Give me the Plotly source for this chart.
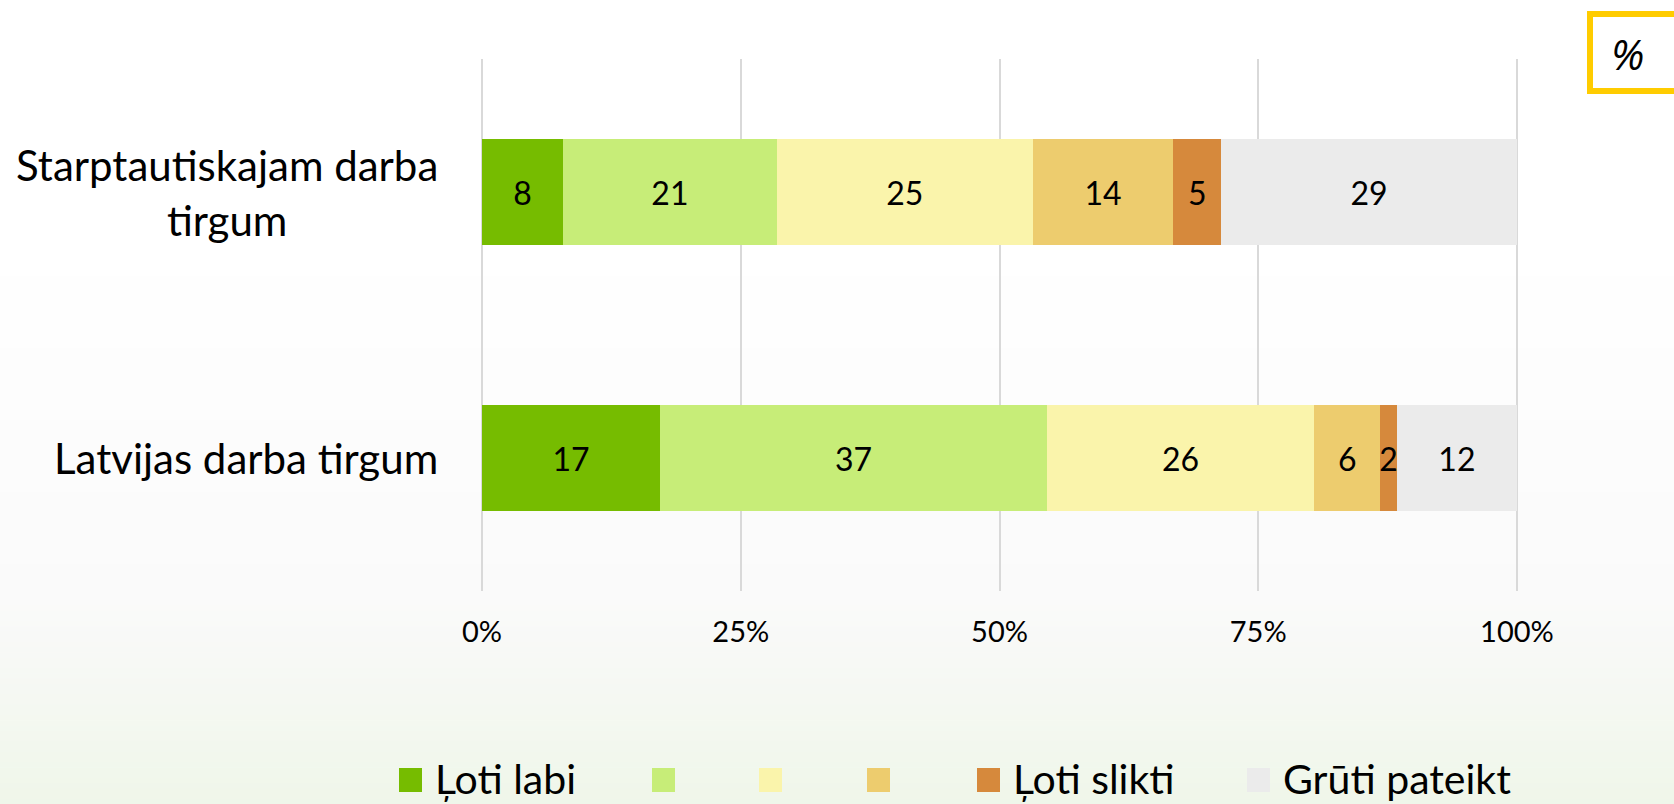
import plotly.graph_objects as go

# ---------------- data ----------------
categories = ["Starptautiskajam darba<br>tirgum", "Latvijas darba tirgum"]
series_names = ["Ļoti labi", "", "", "", "Ļoti slikti", "Grūti pateikt"]
series_colors = ["#76BC00", "#C7ED78", "#FAF4AB", "#EDCC6E", "#D6893C", "#EBEBEB"]
# values per series: [Starptautiskajam, Latvijas]
v_loti_labi = [7.8, 17.2]
v_labi = [20.7, 37.4]
v_videji = [24.7, 25.8]
v_slikti = [13.6, 6.4]
v_loti_slikti = [4.6, 1.6]
v_gruti = [28.6, 11.6]
series_values = [v_loti_labi, v_labi, v_videji, v_slikti, v_loti_slikti, v_gruti]
tick_vals = [0, 25, 50, 75, 100]
tick_text = ["0%", "25%", "50%", "75%", "100%"]

FONT = "Lato"
W, H = 1674, 804
L, R, T, B = 480, 1519, 59, 591
X_RANGE = [-0.2, 100.2]


def px_x(p):
    return (p - L) / (R - L)


def px_y(p):
    return (B - p) / (B - T)


fig = go.Figure()
for name, color, vals in zip(series_names, series_colors, series_values):
    fig.add_trace(go.Bar(
        y=categories, x=vals, orientation="h", name=name,
        marker=dict(color=color, line=dict(width=0)),
        text=vals, texttemplate="%{x:.0f}", textposition="inside",
        insidetextanchor="middle",
        textfont=dict(family=FONT, size=32, color="black"),
        showlegend=False, width=0.4, hoverinfo="skip",
    ))

shapes = []
annotations = []


def grad(y_a, y_b, c_a, c_b, n):
    for i in range(n):
        ya = y_a + (y_b - y_a) * i / n
        yb = y_a + (y_b - y_a) * (i + 1) / n
        t = (i + 0.5) / n
        col = tuple(round(c_a[k] + (c_b[k] - c_a[k]) * t) for k in range(3))
        shapes.append(dict(type="rect", xref="paper", yref="paper",
                           x0=px_x(-10), x1=px_x(W + 10),
                           y0=px_y(yb + 0.6), y1=px_y(ya),
                           fillcolor="rgb(%d,%d,%d)" % col, line=dict(width=0),
                           layer="below"))


# background gradient (white -> faint grey -> pale green at bottom)
grad(240, 600, (255, 255, 255), (250, 250, 250), 30)
grad(600, H + 5, (250, 250, 250), (239, 246, 233), 40)

# % box
shapes.append(dict(type="rect", xref="paper", yref="paper",
                   x0=px_x(1590), x1=px_x(1700), y0=px_y(91), y1=px_y(14),
                   fillcolor="white", line=dict(color="#FFCC00", width=6),
                   layer="above"))
annotations.append(dict(xref="paper", yref="paper", x=px_x(1627), y=px_y(54),
                        text="<i>%</i>", showarrow=False,
                        font=dict(family="Open Sans", size=42, color="black"),
                        xanchor="center", yanchor="middle"))

# category labels (centered multi-line)
for cat in categories:
    annotations.append(dict(xref="paper", yref="y", x=px_x(440), y=cat,
                            text=cat, showarrow=False, align="center",
                            xanchor="right", yanchor="middle",
                            font=dict(family=FONT, size=42, color="black")))

# manual legend
leg_x = [399, 652, 759, 867, 977, 1247]
for name, color, lx in zip(series_names, series_colors, leg_x):
    shapes.append(dict(type="rect", xref="paper", yref="paper",
                       x0=px_x(lx), x1=px_x(lx + 23), y0=px_y(792), y1=px_y(768),
                       fillcolor=color, line=dict(width=0), layer="above"))
    if name:
        annotations.append(dict(xref="paper", yref="paper", x=px_x(lx + 34),
                                y=px_y(778), text=name, showarrow=False,
                                xanchor="left", yanchor="middle",
                                font=dict(family=FONT, size=41, color="black")))

fig.update_layout(
    width=W, height=H,
    barmode="stack",
    margin=dict(l=L, r=W - R, t=T, b=H - B, pad=0),
    paper_bgcolor="white",
    plot_bgcolor="rgba(0,0,0,0)",
    uniformtext=dict(minsize=32, mode="show"),
    shapes=shapes,
    annotations=annotations,
    showlegend=False,
    xaxis=dict(range=X_RANGE, tickvals=tick_vals, ticktext=tick_text,
               showgrid=True, gridcolor="#D9D9D9", gridwidth=2,
               zeroline=False, showline=False,
               ticks="outside", ticklen=15, tickcolor="rgba(0,0,0,0)",
               tickfont=dict(family=FONT, size=29, color="black"),
               fixedrange=True),
    yaxis=dict(categoryorder="array", categoryarray=categories,
               autorange="reversed", showticklabels=False, showgrid=False,
               zeroline=False, showline=False, fixedrange=True),
)

fig.write_html("out.html",
               config={"displayModeBar": False, "staticPlot": True},
               post_script="document.body.style.margin='0';"
                           "document.body.style.overflow='hidden';")
